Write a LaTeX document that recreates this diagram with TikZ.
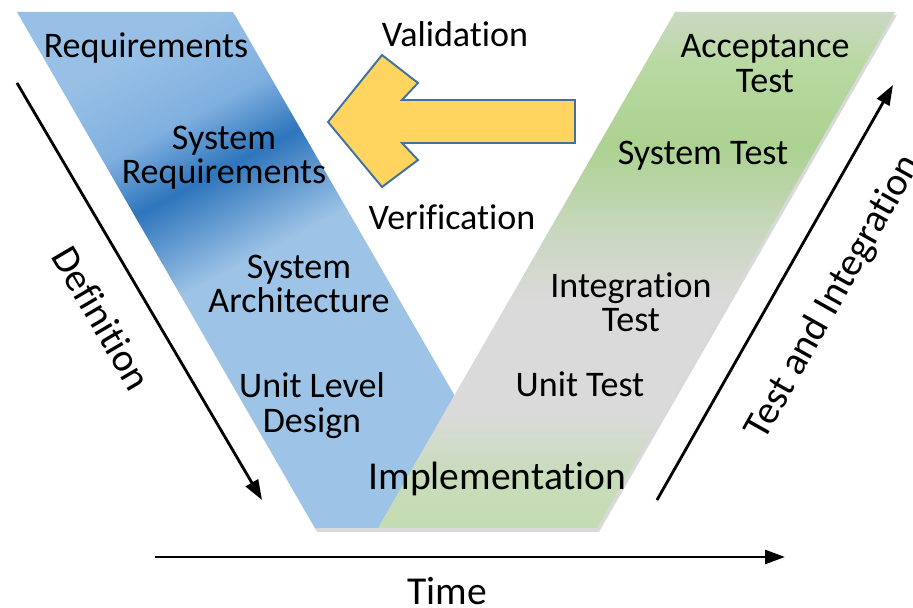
\documentclass[tikz,border=0pt]{standalone}
\usepackage{fontspec}
\setmainfont{Carlito}[Ligatures=CommonOff]
\usetikzlibrary{arrows.meta}
\definecolor{legblue}{RGB}{157,195,230}
\definecolor{legbluedark}{RGB}{46,117,188}
\definecolor{legbluemid}{RGB}{128,176,224}
\definecolor{legbluetop}{RGB}{152,192,230}
\definecolor{leggreen}{RGB}{172,210,145}
\definecolor{leggreenlow}{RGB}{196,220,178}
\definecolor{leggreentop}{RGB}{203,216,196}
\definecolor{leggray}{RGB}{218,218,218}
\definecolor{arrowyellow}{RGB}{255,213,96}
\definecolor{arrowedge}{RGB}{65,113,156}
\pgfdeclareverticalshading{leftleg}{100bp}{color(0bp)=(legblue); color(52bp)=(legblue); color(61bp)=(legbluedark); color(67bp)=(legbluemid); color(75bp)=(legbluetop); color(100bp)=(legbluetop)}
\pgfdeclareverticalshading{rightleg}{100bp}{color(0bp)=(leggreenlow); color(25bp)=(leggreenlow); color(30bp)=(leggreenlow!80!leggray); color(36bp)=(leggray); color(47bp)=(leggray); color(54bp)=(leggreen!40!leggray); color(62bp)=(leggreen); color(70bp)=(leggreen!85!white); color(75bp)=(leggreentop); color(100bp)=(leggreentop)}
\tikzstyle{lbl}=[font=\fontsize{20.5}{19.5}\selectfont,align=center,inner sep=0pt]
\tikzstyle{biglbl}=[font=\fontsize{22.5}{24}\selectfont,inner sep=0pt]
\tikzstyle{flow}=[line width=1.6pt,-{Triangle[length=4mm,width=2.8mm]}]
\tikzstyle{legshadow}=[fill=black!15]

\begin{document}
\begin{tikzpicture}
\useasboundingbox (0,0) rectangle (18.26,12.16);
% shadows of the two legs
\fill[legshadow] (0.38,11.86) -- (4.70,11.86) -- (10.66,1.52) -- (6.34,1.52) -- cycle;
\fill[legshadow] (13.54,11.86) -- (17.94,11.86) -- (11.98,1.52) -- (7.60,1.52) -- cycle;
% left leg
\shade[shading=leftleg,shading angle=28] (0.34,11.92) -- (4.66,11.92) -- (10.62,1.60) -- (6.30,1.60) -- cycle;
% right leg
\shade[shading=rightleg] (13.50,11.92) -- (17.90,11.92) -- (11.94,1.60) -- (7.56,1.60) -- cycle;
% big arrow
\filldraw[fill=arrowyellow,draw=arrowedge,line width=1.1pt,line join=miter] (6.56,9.72) -- (7.64,11.06) -- (8.36,10.50) -- (8.04,10.16) -- (11.50,10.16) -- (11.50,9.30) -- (8.04,9.30) -- (8.36,8.96) -- (7.64,8.42) -- cycle;

\node[lbl,anchor=base] (req) at (2.92,11.00) {Requirements};
\node[lbl] (sysreq) at (4.48,9.00) {System\\Requirements};
\node[lbl] (sysarch) at (5.98,6.48) {System\\Architecture};
\node[lbl] (unitdes) at (6.24,4.05) {Unit Level\\Design};
\node[biglbl,anchor=base] (impl) at (9.95,2.36) {Implementation};
\node[lbl,anchor=base] (unittest) at (11.60,4.22) {Unit Test};
\node[lbl] (inttest) at (12.62,6.12) {Integration\\Test};
\node[lbl,anchor=base] (systest) at (14.06,8.86) {System Test};
\node[lbl] (acctest) at (15.30,10.89) {Acceptance\\Test};
\node[lbl,anchor=base] (valid) at (9.10,11.22) {Validation};
\node[lbl,anchor=base] (verif) at (9.04,7.56) {Verification};

% axes
\coordinate (defa) at (0.34,10.50);
\coordinate (defb) at (5.24,2.16);
\coordinate (timea) at (3.10,1.02);
\coordinate (timeb) at (15.70,1.02);
\coordinate (tia) at (13.14,2.16);
\coordinate (tib) at (17.86,10.46);
\draw[flow] (defa) -- (defb);
\draw[flow] (timea) -- (timeb);
\draw[flow] (tia) -- (tib);
\node[biglbl,rotate=-59.6] (defn) at (2.04,5.80) {Definition};
\node[biglbl,anchor=base] (time) at (8.94,0.07) {Time};
\node[biglbl,rotate=60.7] (testint) at (16.68,6.22) {Test and Integration};
\end{tikzpicture}
\end{document}
